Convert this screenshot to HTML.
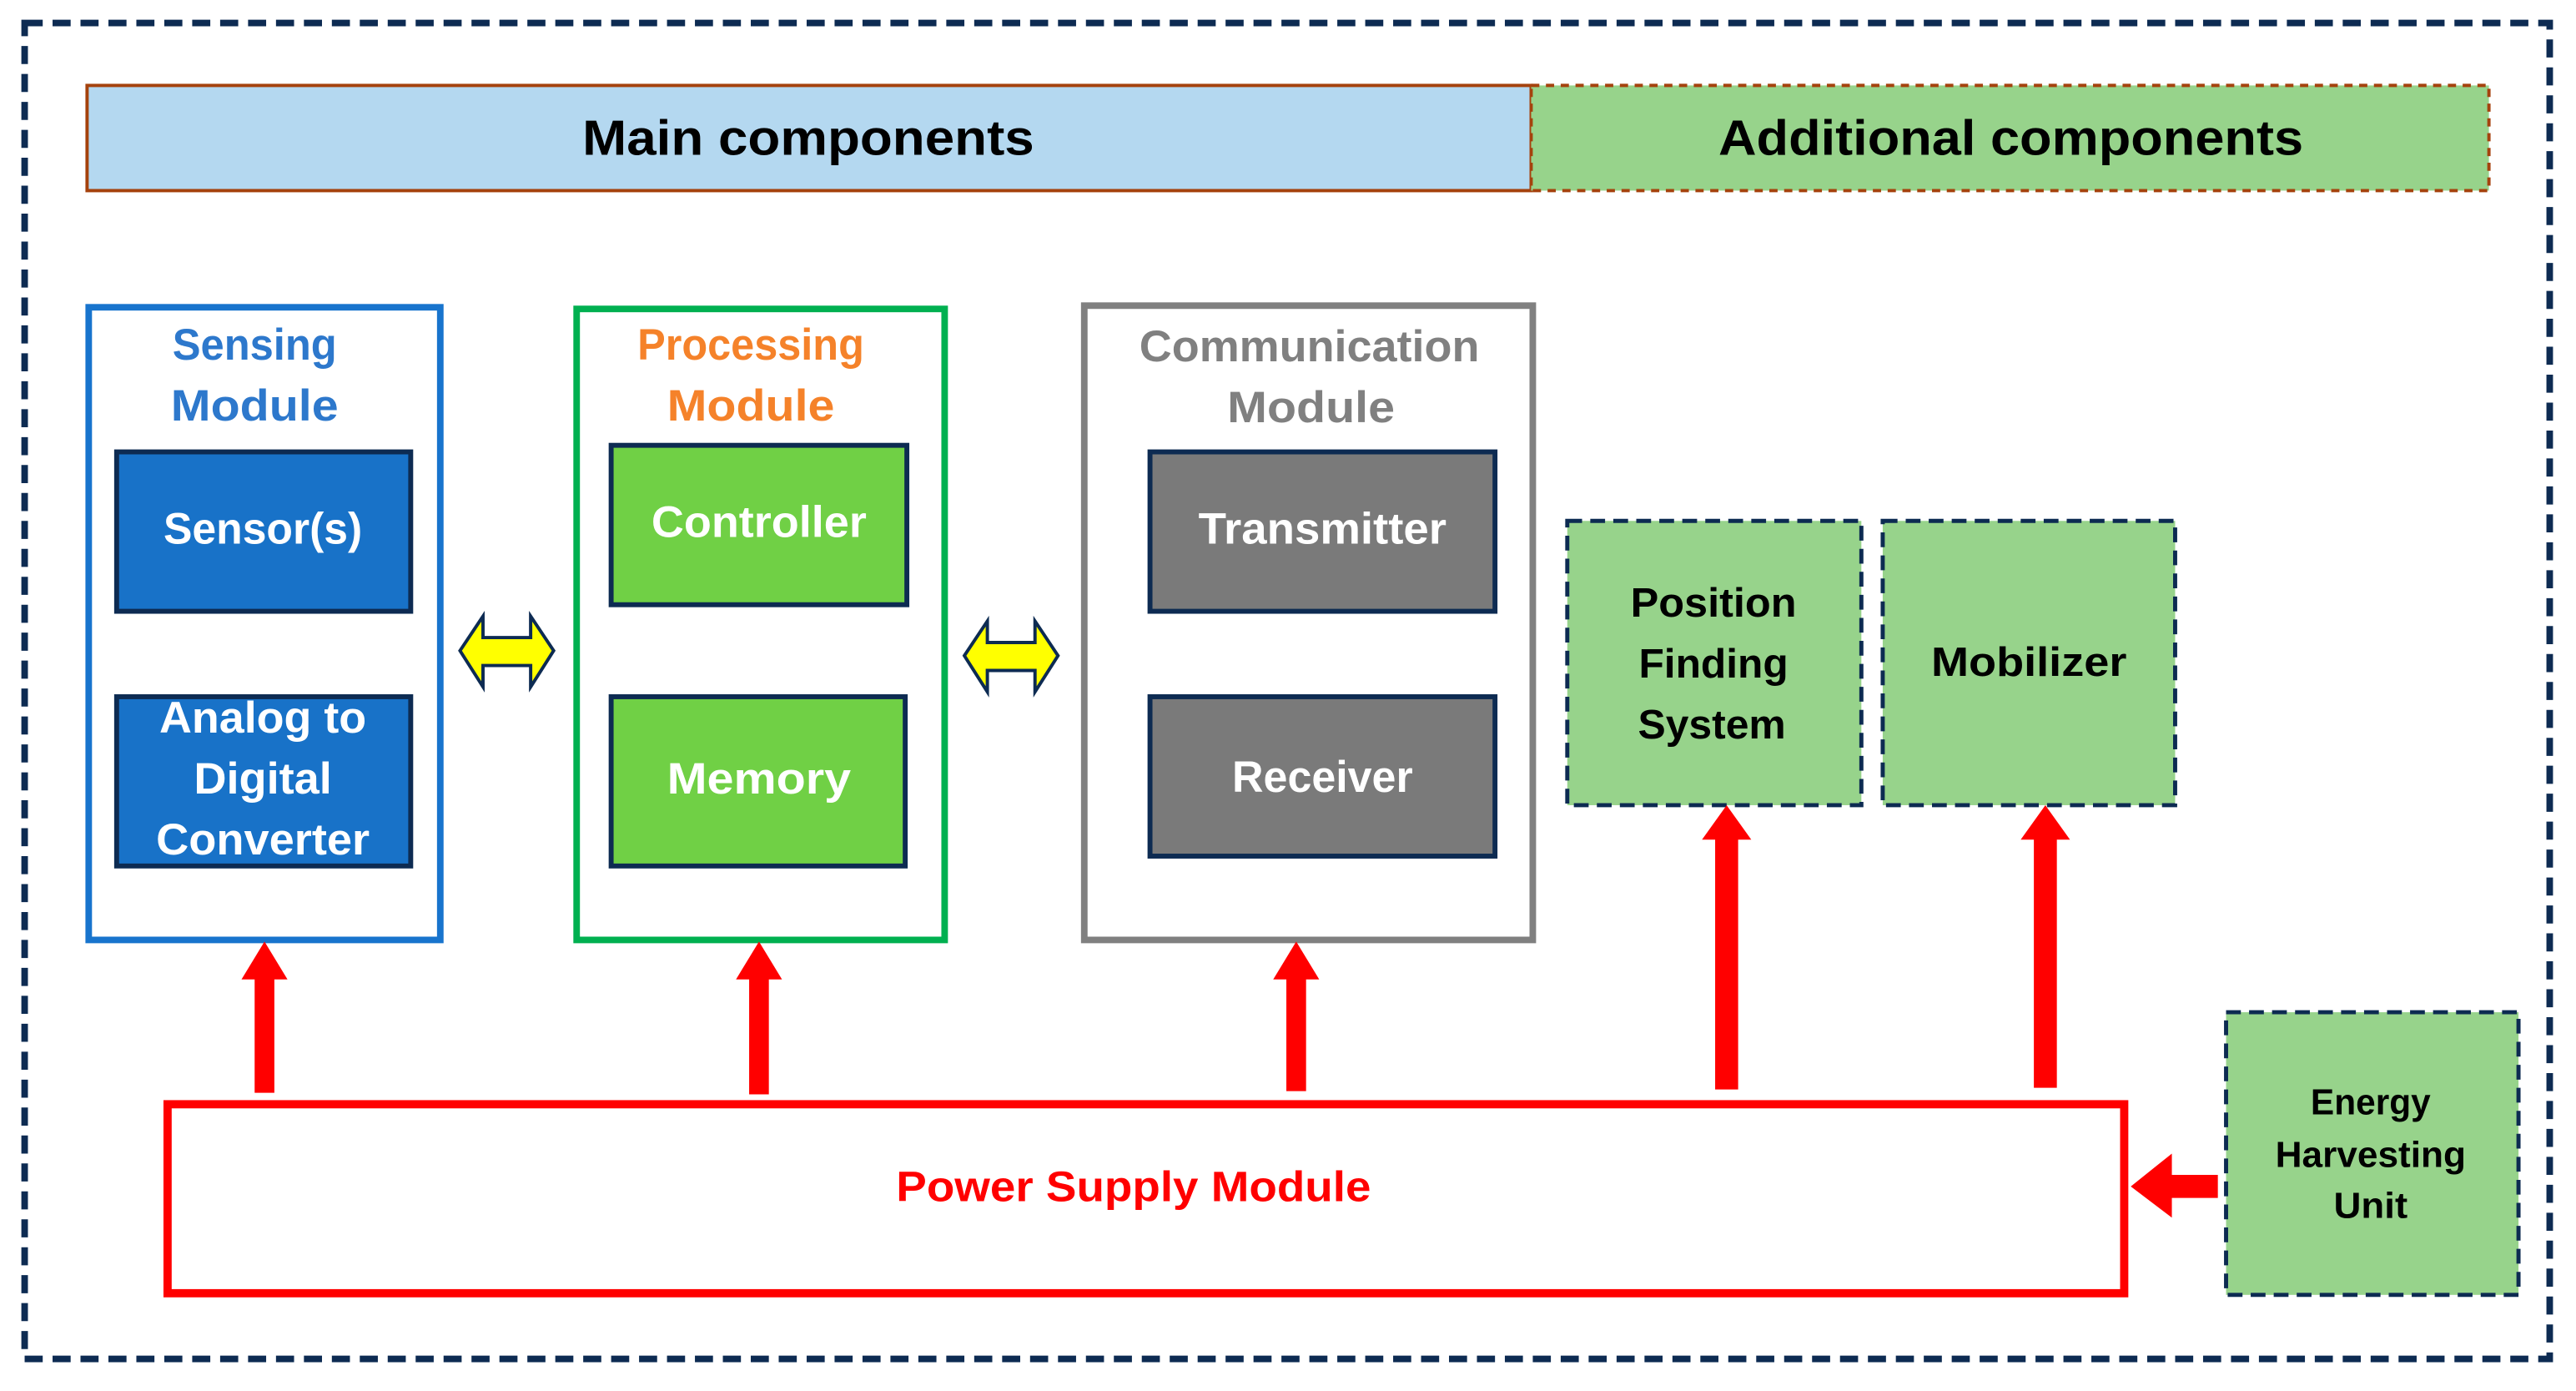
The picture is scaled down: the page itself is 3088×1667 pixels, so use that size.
<!DOCTYPE html>
<html><head><meta charset="utf-8"><style>
html,body{margin:0;padding:0;background:#fff;}
svg{display:block;}
text{font-family:"Liberation Sans",sans-serif;font-weight:bold;}
</style></head><body>
<svg width="3088" height="1667" viewBox="0 0 1568 846.5" preserveAspectRatio="none" xmlns="http://www.w3.org/2000/svg">
<rect x="0" y="0" width="1568" height="846.5" fill="#fff"/>
<!-- outer dashed border -->
<rect x="15" y="14" width="1537" height="813" fill="none" stroke="#0d2b52" stroke-width="4" stroke-dasharray="11 6"/>
<!-- header -->
<rect x="53" y="52" width="879" height="64" fill="#b4d8f0" stroke="#a5420d" stroke-width="2"/>
<rect x="932" y="52" width="583" height="64" fill="#97d38b" stroke="#a5420d" stroke-width="2" stroke-dasharray="5 4"/>
<text x="492" y="84" font-size="30" text-anchor="middle" dominant-baseline="central" textLength="275" lengthAdjust="spacingAndGlyphs">Main components</text>
<text x="1224" y="84" font-size="30" text-anchor="middle" dominant-baseline="central" textLength="356" lengthAdjust="spacingAndGlyphs">Additional components</text>

<!-- Sensing module -->
<rect x="54" y="187" width="214" height="385" fill="#fff" stroke="#1874cd" stroke-width="4"/>
<text x="155" y="210" font-size="27" fill="#2d78cc" text-anchor="middle" dominant-baseline="central" textLength="100" lengthAdjust="spacingAndGlyphs">Sensing</text>
<text x="155" y="247" font-size="27" fill="#2d78cc" text-anchor="middle" dominant-baseline="central" textLength="102" lengthAdjust="spacingAndGlyphs">Module</text>
<rect x="71" y="275" width="179" height="97" fill="#1872c8" stroke="#0d2b52" stroke-width="3"/>
<text x="160" y="322" font-size="27" fill="#fff" text-anchor="middle" dominant-baseline="central" textLength="121" lengthAdjust="spacingAndGlyphs">Sensor(s)</text>
<rect x="71" y="424" width="179" height="103" fill="#1872c8" stroke="#0d2b52" stroke-width="3"/>
<text x="160" y="437" font-size="27" fill="#fff" text-anchor="middle" dominant-baseline="central" textLength="126" lengthAdjust="spacingAndGlyphs">Analog to</text>
<text x="160" y="474" font-size="27" fill="#fff" text-anchor="middle" dominant-baseline="central" textLength="84" lengthAdjust="spacingAndGlyphs">Digital</text>
<text x="160" y="511" font-size="27" fill="#fff" text-anchor="middle" dominant-baseline="central" textLength="130" lengthAdjust="spacingAndGlyphs">Converter</text>

<!-- Processing module -->
<rect x="351" y="188" width="224" height="384" fill="#fff" stroke="#00b050" stroke-width="4"/>
<text x="457" y="210" font-size="27" fill="#f5822a" text-anchor="middle" dominant-baseline="central" textLength="138" lengthAdjust="spacingAndGlyphs">Processing</text>
<text x="457" y="247" font-size="27" fill="#f5822a" text-anchor="middle" dominant-baseline="central" textLength="102" lengthAdjust="spacingAndGlyphs">Module</text>
<rect x="372" y="271" width="180" height="97" fill="#70d045" stroke="#0d2b52" stroke-width="3"/>
<text x="462" y="318" font-size="27" fill="#fff" text-anchor="middle" dominant-baseline="central" textLength="131" lengthAdjust="spacingAndGlyphs">Controller</text>
<rect x="372" y="424" width="179" height="103" fill="#70d045" stroke="#0d2b52" stroke-width="3"/>
<text x="462" y="474" font-size="27" fill="#fff" text-anchor="middle" dominant-baseline="central" textLength="112" lengthAdjust="spacingAndGlyphs">Memory</text>

<!-- Communication module -->
<rect x="660" y="186" width="273" height="386" fill="#fff" stroke="#808080" stroke-width="4"/>
<text x="797" y="211" font-size="27" fill="#808080" text-anchor="middle" dominant-baseline="central" textLength="207" lengthAdjust="spacingAndGlyphs">Communication</text>
<text x="798" y="248" font-size="27" fill="#808080" text-anchor="middle" dominant-baseline="central" textLength="102" lengthAdjust="spacingAndGlyphs">Module</text>
<rect x="700" y="275" width="210" height="97" fill="#7a7a7a" stroke="#0d2b52" stroke-width="3"/>
<text x="805" y="322" font-size="27" fill="#fff" text-anchor="middle" dominant-baseline="central" textLength="151" lengthAdjust="spacingAndGlyphs">Transmitter</text>
<rect x="700" y="424" width="210" height="97" fill="#7a7a7a" stroke="#0d2b52" stroke-width="3"/>
<text x="805" y="473" font-size="27" fill="#fff" text-anchor="middle" dominant-baseline="central" textLength="110" lengthAdjust="spacingAndGlyphs">Receiver</text>

<!-- yellow double arrows -->
<polygon points="280,396 294,375 294,388 323,388 323,375 337,396 323,418 323,405 294,405 294,418" fill="#ffff00" stroke="#0d2b52" stroke-width="2"/>
<polygon points="587,399 601,378 601,391 630,391 630,378 644,399 630,421 630,408 601,408 601,421" fill="#ffff00" stroke="#0d2b52" stroke-width="2"/>

<!-- additional boxes -->
<rect x="954" y="317" width="179" height="173" fill="#97d38b" stroke="#0d2b52" stroke-width="2.5" stroke-dasharray="9 5"/>
<text x="1043" y="367" font-size="25" fill="#000" text-anchor="middle" dominant-baseline="central" textLength="101" lengthAdjust="spacingAndGlyphs">Position</text>
<text x="1043" y="404" font-size="25" fill="#000" text-anchor="middle" dominant-baseline="central" textLength="91" lengthAdjust="spacingAndGlyphs">Finding</text>
<text x="1042" y="441" font-size="25" fill="#000" text-anchor="middle" dominant-baseline="central" textLength="90" lengthAdjust="spacingAndGlyphs">System</text>
<rect x="1146" y="317" width="178" height="173" fill="#97d38b" stroke="#0d2b52" stroke-width="2.5" stroke-dasharray="9 5"/>
<text x="1235" y="403" font-size="25" fill="#000" text-anchor="middle" dominant-baseline="central" textLength="119" lengthAdjust="spacingAndGlyphs">Mobilizer</text>
<rect x="1355" y="616" width="178" height="172" fill="#97d38b" stroke="#0d2b52" stroke-width="2.5" stroke-dasharray="9 5"/>
<text x="1443" y="671" font-size="22" fill="#000" text-anchor="middle" dominant-baseline="central" textLength="73" lengthAdjust="spacingAndGlyphs">Energy</text>
<text x="1443" y="703" font-size="22" fill="#000" text-anchor="middle" dominant-baseline="central" textLength="116" lengthAdjust="spacingAndGlyphs">Harvesting</text>
<text x="1443" y="734" font-size="22" fill="#000" text-anchor="middle" dominant-baseline="central" textLength="45" lengthAdjust="spacingAndGlyphs">Unit</text>

<!-- power supply -->
<rect x="102" y="672" width="1191" height="115" fill="#fff" stroke="#ff0000" stroke-width="5"/>
<text x="690" y="722" font-size="26" fill="#ff0000" text-anchor="middle" dominant-baseline="central" textLength="289" lengthAdjust="spacingAndGlyphs">Power Supply Module</text>

<!-- red up arrows -->
<g fill="#ff0000">
<polygon points="155,665 155,596 147,596 161,573 175,596 167,596 167,665"/>
<polygon points="456,666 456,596 448,596 462,573 476,596 468,596 468,666"/>
<polygon points="783,664 783,596 775,596 789,573 803,596 795,596 795,664"/>
<polygon points="1044,663 1044,511 1036,511 1051,490 1066,511 1058,511 1058,663"/>
<polygon points="1238,662 1238,511 1230,511 1245,490 1260,511 1252,511 1252,662"/>
<polygon points="1350,715 1322,715 1322,702 1297,722 1322,741 1322,729 1350,729"/>
</g>
</svg>
</body></html>
